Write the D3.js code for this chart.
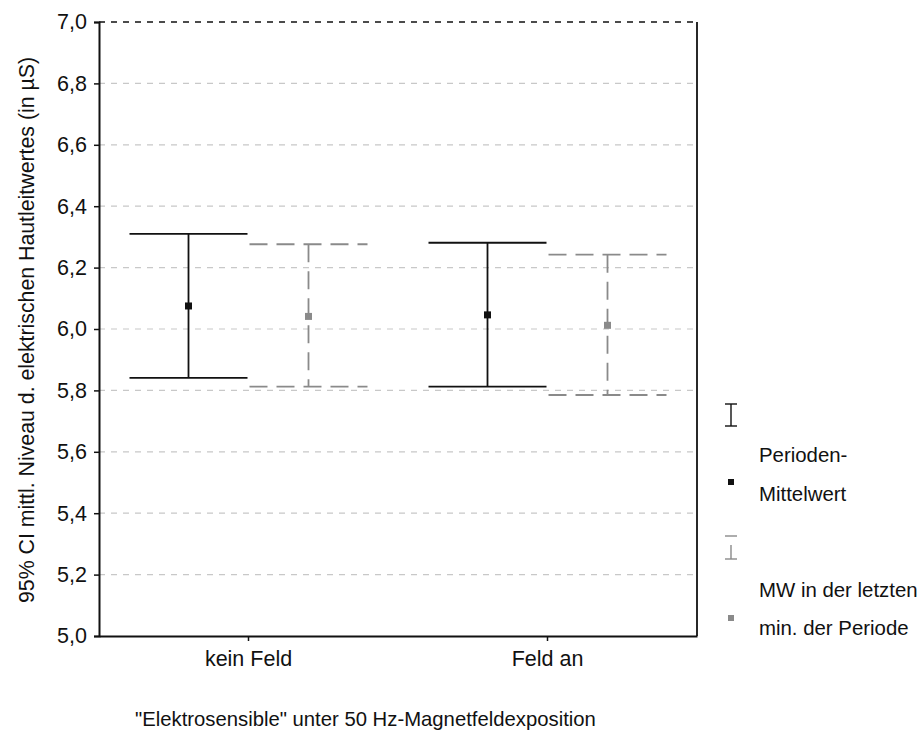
<!DOCTYPE html>
<html>
<head>
<meta charset="utf-8">
<script src="https://cdn.jsdelivr.net/npm/d3@7"></script>
<style>
  body { margin: 0; background: #fff; }
  text { font-family: "Liberation Sans", Arial, sans-serif; fill: #111; }
</style>
</head>
<body>
<svg id="chart" width="919" height="733"></svg>
<script>
// data
const categories = ['kein Feld', 'Feld an'];
const periodMean  = [6.075, 6.046];
const periodLow   = [5.841, 5.812];
const periodHigh  = [6.310, 6.281];
const lastMinMean = [6.041, 6.012];
const lastMinLow  = [5.812, 5.785];
const lastMinHigh = [6.276, 6.242];
const yTicks = [5.0, 5.2, 5.4, 5.6, 5.8, 6.0, 6.2, 6.4, 6.6, 6.8, 7.0];

const margin = {top: 22, right: 222, bottom: 97, left: 99};
const width = 919 - margin.left - margin.right;
const height = 733 - margin.top - margin.bottom;

const svg = d3.select('#chart');
const chart = svg.append('g').attr('transform', `translate(${margin.left},${margin.top})`);

const xScale = d3.scaleBand().domain(categories).range([0, width]);
const yScale = d3.scaleLinear().domain([5, 7]).range([height, 0]);
const fmt = d => d3.format('.1f')(d).replace('.', ',');

// gridlines
chart.selectAll('.grid')
    .data(yTicks.filter(d => d > 5))
    .enter().append('line')
    .attr('x1', 0).attr('x2', width)
    .attr('y1', d => yScale(d)).attr('y2', d => yScale(d))
    .attr('stroke', d => d === 7 ? '#111' : '#c8c8c8')
    .attr('stroke-width', d => d === 7 ? 1.5 : 1.2)
    .attr('stroke-dasharray', '6,6');

// right border
chart.append('line')
    .attr('x1', width).attr('x2', width).attr('y1', 0).attr('y2', height)
    .attr('stroke', '#111').attr('stroke-width', 1.8);

// axes
const yAxis = chart.append('g')
    .call(d3.axisLeft(yScale).tickValues(yTicks).tickFormat(fmt).tickSize(5).tickPadding(7));
const xAxis = chart.append('g')
    .attr('transform', `translate(0,${height})`)
    .call(d3.axisBottom(xScale).tickSize(5).tickSizeOuter(0).tickPadding(10));
[yAxis, xAxis].forEach(ax => {
    ax.select('.domain').attr('stroke', '#111').attr('stroke-width', 2);
    ax.selectAll('.tick line').attr('stroke', '#111').attr('stroke-width', 1.5);
    ax.selectAll('.tick text').attr('font-size', 21.5).attr('fill', '#111')
        .style('font-family', '"Liberation Sans", Arial, sans-serif');
});

// error bars
const capW = 118;
const series = [
    {offset: -60, mean: periodMean, low: periodLow, high: periodHigh, color: '#111', dash: null, sw: 1.8},
    {offset: 60, mean: lastMinMean, low: lastMinLow, high: lastMinHigh, color: '#8a8a8a', dash: '18,9', sw: 1.8}
];
series.forEach(s => {
    const g = chart.append('g');
    categories.forEach((c, i) => {
        const cx = xScale(c) + xScale.bandwidth() / 2 + s.offset;
        g.append('line')
            .attr('x1', cx).attr('x2', cx)
            .attr('y1', yScale(s.high[i])).attr('y2', yScale(s.low[i]))
            .attr('stroke', s.color).attr('stroke-width', s.sw)
            .attr('stroke-dasharray', s.dash);
        [s.high[i], s.low[i]].forEach(v => {
            g.append('line')
                .attr('x1', cx - capW / 2).attr('x2', cx + capW / 2)
                .attr('y1', yScale(v)).attr('y2', yScale(v))
                .attr('stroke', s.color).attr('stroke-width', s.sw)
                .attr('stroke-dasharray', s.dash);
        });
        g.append('rect')
            .attr('x', cx - 3.5).attr('y', yScale(s.mean[i]) - 3.5)
            .attr('width', 7).attr('height', 7)
            .attr('fill', s.color);
    });
});

// y title
svg.append('text')
    .attr('transform', `translate(34,330) rotate(-90)`)
    .attr('text-anchor', 'middle')
    .attr('font-size', 21.3)
    .text('95% CI mittl. Niveau d. elektrischen Hautleitwertes (in µS)');

// x title
svg.append('text')
    .attr('x', 135).attr('y', 726)
    .attr('font-size', 20.3)
    .text('"Elektrosensible" unter 50 Hz-Magnetfeldexposition');

// legend
const legend = svg.append('g');
const lx = 731;
function legendBar(y1, y2, color, dash) {
    legend.append('line').attr('x1', lx).attr('x2', lx).attr('y1', y1).attr('y2', y2)
        .attr('stroke', color).attr('stroke-width', 1.4).attr('stroke-dasharray', dash);
    [y1, y2].forEach(y => legend.append('line')
        .attr('x1', lx - 6).attr('x2', lx + 6).attr('y1', y).attr('y2', y)
        .attr('stroke', color).attr('stroke-width', 1.4));
}
legendBar(404, 426, '#111', null);
legend.append('rect').attr('x', lx - 3).attr('y', 479).attr('width', 6).attr('height', 6).attr('fill', '#111');
legendBar(536, 559, '#8a8a8a', '0,9,14');
legend.append('rect').attr('x', lx - 3).attr('y', 615).attr('width', 6).attr('height', 6).attr('fill', '#8a8a8a');

const legendText = [
    {t: 'Perioden-', y: 462},
    {t: 'Mittelwert', y: 501},
    {t: 'MW in der letzten', y: 597},
    {t: 'min. der Periode', y: 635}
];
legend.selectAll('.ltxt').data(legendText).enter().append('text')
    .attr('x', 759).attr('y', d => d.y)
    .attr('font-size', 20.4)
    .text(d => d.t);
</script>
</body>
</html>
